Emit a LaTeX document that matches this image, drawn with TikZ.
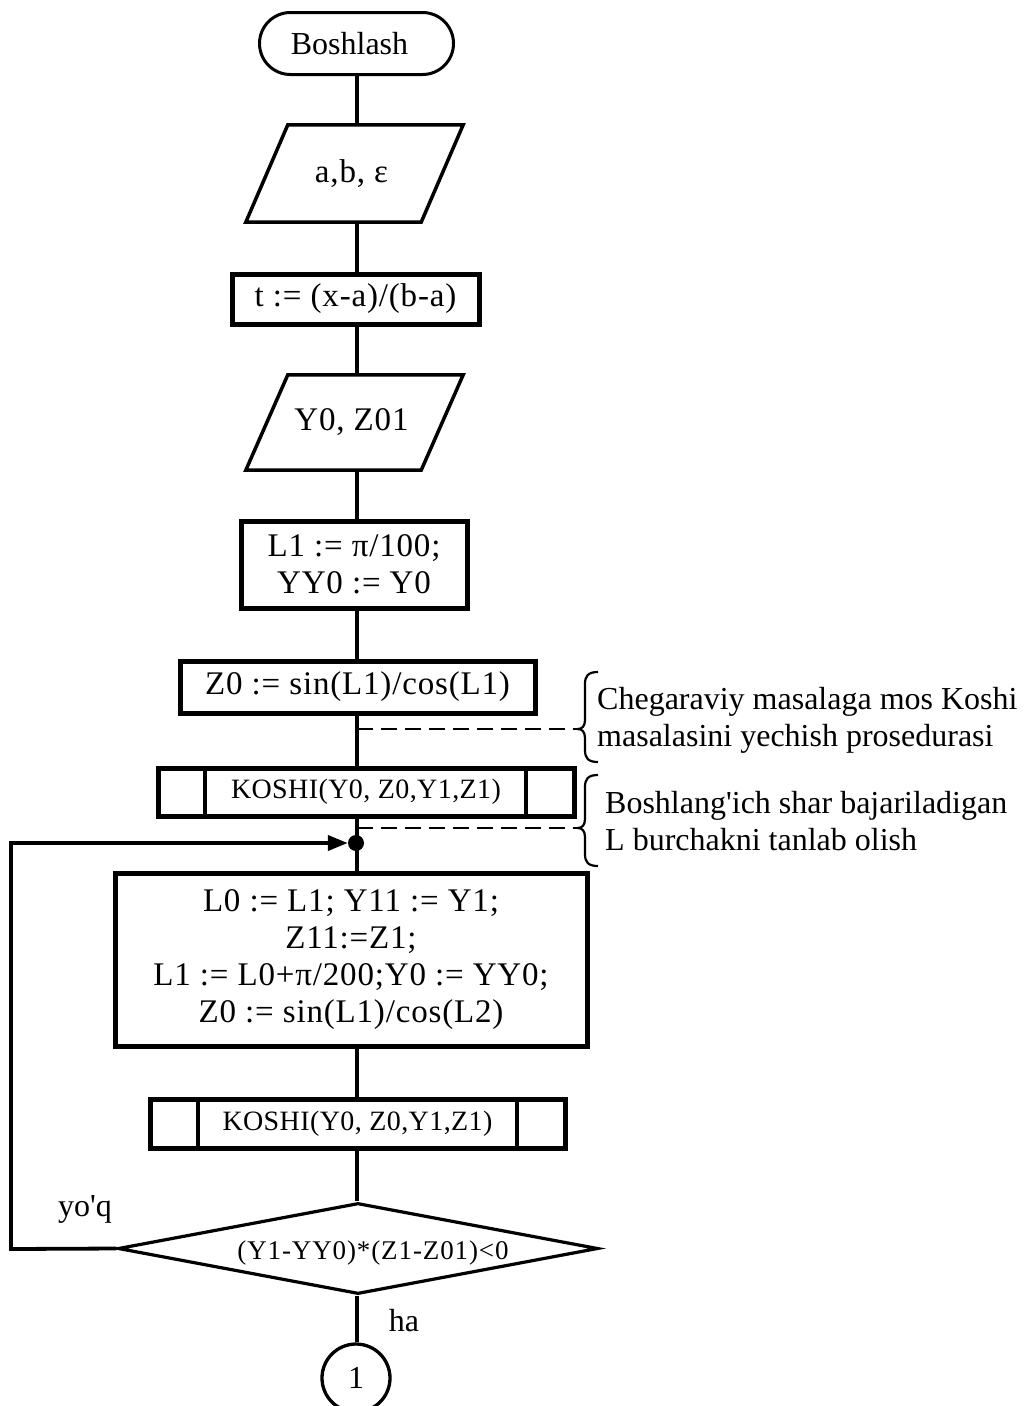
\documentclass[tikz,border=0pt]{standalone}
\usepackage{fontspec}
\setmainfont{Liberation Serif}[Ligatures=TeXOff]
\newfontfamily\boxfnt{Liberation Serif}[LetterSpace=2.5,Ligatures=TeXOff]
\newfontfamily\kfnt{Liberation Serif}[LetterSpace=1.5,Ligatures=TeXOff]
\newfontfamily\dfnt{Liberation Serif}[LetterSpace=3.3,Ligatures=TeXOff]
\usetikzlibrary{arrows.meta,shapes.geometric}
\tikzset{
  conn/.style={line width=3.8pt},
  dashline/.style={line width=2.8pt, dash pattern=on 16pt off 8pt},
  bx/.style={draw, line width=5pt, inner sep=0pt, align=center,
    font=\fontsize{33}{37}\selectfont\boxfnt},
  kbx/.style={draw, line width=5pt, inner sep=0pt,
    font=\fontsize{28}{32}\selectfont\kfnt},
  iobx/.style={inner sep=0pt, font=\fontsize{33}{37}\selectfont\boxfnt},
  pgram/.style={line width=3.5pt},
  lbl/.style={inner sep=0pt, font=\fontsize{32}{37}\selectfont},
  note/.style={inner sep=0pt, align=left, anchor=west, font=\fontsize{32}{37}\selectfont},
}
\begin{document}
\begin{tikzpicture}[x=1pt,y=-1pt,line join=miter]
\useasboundingbox (0,0) rectangle (1027,1406);
\coordinate (ax) at (357,0);

% terminal
\node[draw, line width=3pt, rounded corners=31pt, minimum width=194pt, minimum height=62pt,
  inner sep=0pt, font=\fontsize{32}{37}\selectfont] (start) at (356.5,43.5) {Boshlash\hspace*{14pt}};

% input 1
\node[iobx, minimum width=217pt, minimum height=97pt] (in1) at (354.5,173.5) {a,b, ε\hspace*{6pt}};
\draw[pgram] ([xshift=42pt]in1.north west) -- (in1.north east)
  -- ([xshift=-42pt]in1.south east) -- (in1.south west) -- cycle;

% t box
\node[bx, minimum width=247pt, minimum height=50pt] (tb) at (355.5,299) {t := (x-a)/(b-a)};

% input 2
\node[iobx, minimum width=217pt, minimum height=95pt] (in2) at (354.5,422.5) {Y0, Z01\hspace*{6pt}};
\draw[pgram] ([xshift=42pt]in2.north west) -- (in2.north east)
  -- ([xshift=-42pt]in2.south east) -- (in2.south west) -- cycle;

% L1 box
\node[bx, minimum width=226pt, minimum height=87pt] (l1) at (354,564.5) {L1 := π/100;\\YY0 := Y0};

% Z0 box
\node[bx, minimum width=355pt, minimum height=52pt] (z0) at (357.5,687) {Z0 := sin(L1)/cos(L1)};

% KOSHI 1
\node[kbx, minimum width=416pt, minimum height=48pt] (k1) at (366,792) {KOSHI(Y0, Z0,Y1,Z1)};
\draw[line width=4pt] ([xshift=49pt]k1.north west) -- ([xshift=49pt]k1.south west);
\draw[line width=4pt] ([xshift=-51pt]k1.north east) -- ([xshift=-51pt]k1.south east);

% dot
\node[circle, fill, inner sep=0pt, minimum size=16pt] (dot) at (356,843) {};

% big box
\node[bx, minimum width=472pt, minimum height=173pt] (big) at (351,959.5)
  {L0 := L1; Y11 := Y1;\\Z11:=Z1;\\L1 := L0+π/200;Y0 := YY0;\\Z0 := sin(L1)/cos(L2)};

% KOSHI 2
\node[kbx, minimum width=415pt, minimum height=49pt] (k2) at (357.5,1123.5) {KOSHI(Y0, Z0,Y1,Z1)};
\draw[line width=4pt] ([xshift=50pt]k2.north west) -- ([xshift=50pt]k2.south west);
\draw[line width=4pt] ([xshift=-51pt]k2.north east) -- ([xshift=-51pt]k2.south east);

% decision
\node[diamond, draw, line width=3.2pt, inner sep=0pt, aspect=5.27, minimum width=480pt,
  minimum height=91pt] (dia) at (358,1248.5) {};
\node[inner sep=0pt, font=\fontsize{27}{30}\selectfont\dfnt] (dtxt) at (373,1253) {(Y1-YY0)*(Z1-Z01)<0};

% connector circle
\node[circle, draw, line width=3.3pt, minimum size=68pt, inner sep=0pt,
  font=\fontsize{32}{36}\selectfont] (c1) at (356,1378) {1};

% main axis connectors
\draw[conn] (start.south -| ax) -- (in1.north -| ax);
\draw[conn] (in1.south -| ax) -- (tb.north -| ax);
\draw[conn] (tb.south -| ax) -- (in2.north -| ax);
\draw[conn] (in2.south -| ax) -- (l1.north -| ax);
\draw[conn] (l1.south -| ax) -- (z0.north -| ax);
\draw[conn] (z0.south -| ax) -- (k1.north -| ax);
\draw[conn] (k1.south -| ax) -- (big.north -| ax);
\draw[conn] (big.south -| ax) -- (k2.north -| ax);
\draw[conn] (k2.south -| ax) -- (dia.north -| ax);
\draw[conn] (dia.south -| ax) -- (c1.north -| ax);

% loop back
\coordinate (lb) at (11,1249);
\coordinate (lt) at (11,843);
\draw[conn, -{Triangle[length=20pt,width=15pt]}] (dia.west) -- (lb) -- (lt) -- (dot.west);

% labels
\node[lbl] (no) at (85,1209) {yo'q};
\node[lbl] (yes) at (404,1321) {ha};

% annotations
\coordinate (d1) at (357,729);
\coordinate (b1) at (578,729);
\coordinate (d2) at (357,828);
\coordinate (b2) at (578,828);
\draw[dashline] (d1) -- (b1);
\draw[dashline] (d2) -- (b2);

\draw[line width=2.2pt] (598,672) .. controls (588,672) and (585,676) .. (585,684) -- (585,720)
  .. controls (585,726) and (582,729) .. (b1)
  .. controls (582,729) and (585,732) .. (585,738) -- (585,750)
  .. controls (585,758) and (588,762) .. (598,762);
\draw[line width=2.2pt] (598,775) .. controls (588,775) and (585,779) .. (585,787) -- (585,819)
  .. controls (585,825) and (582,828) .. (b2)
  .. controls (582,828) and (585,831) .. (585,837) -- (585,854)
  .. controls (585,862) and (588,866) .. (598,866);

\node[note] (n1) at (597,720) {Chegaraviy masalaga mos Koshi\\masalasini yechish prosedurasi};
\node[note] (n2) at (605,821) {Boshlang'ich shar bajariladigan\\L burchakni tanlab olish};
\end{tikzpicture}
\end{document}
